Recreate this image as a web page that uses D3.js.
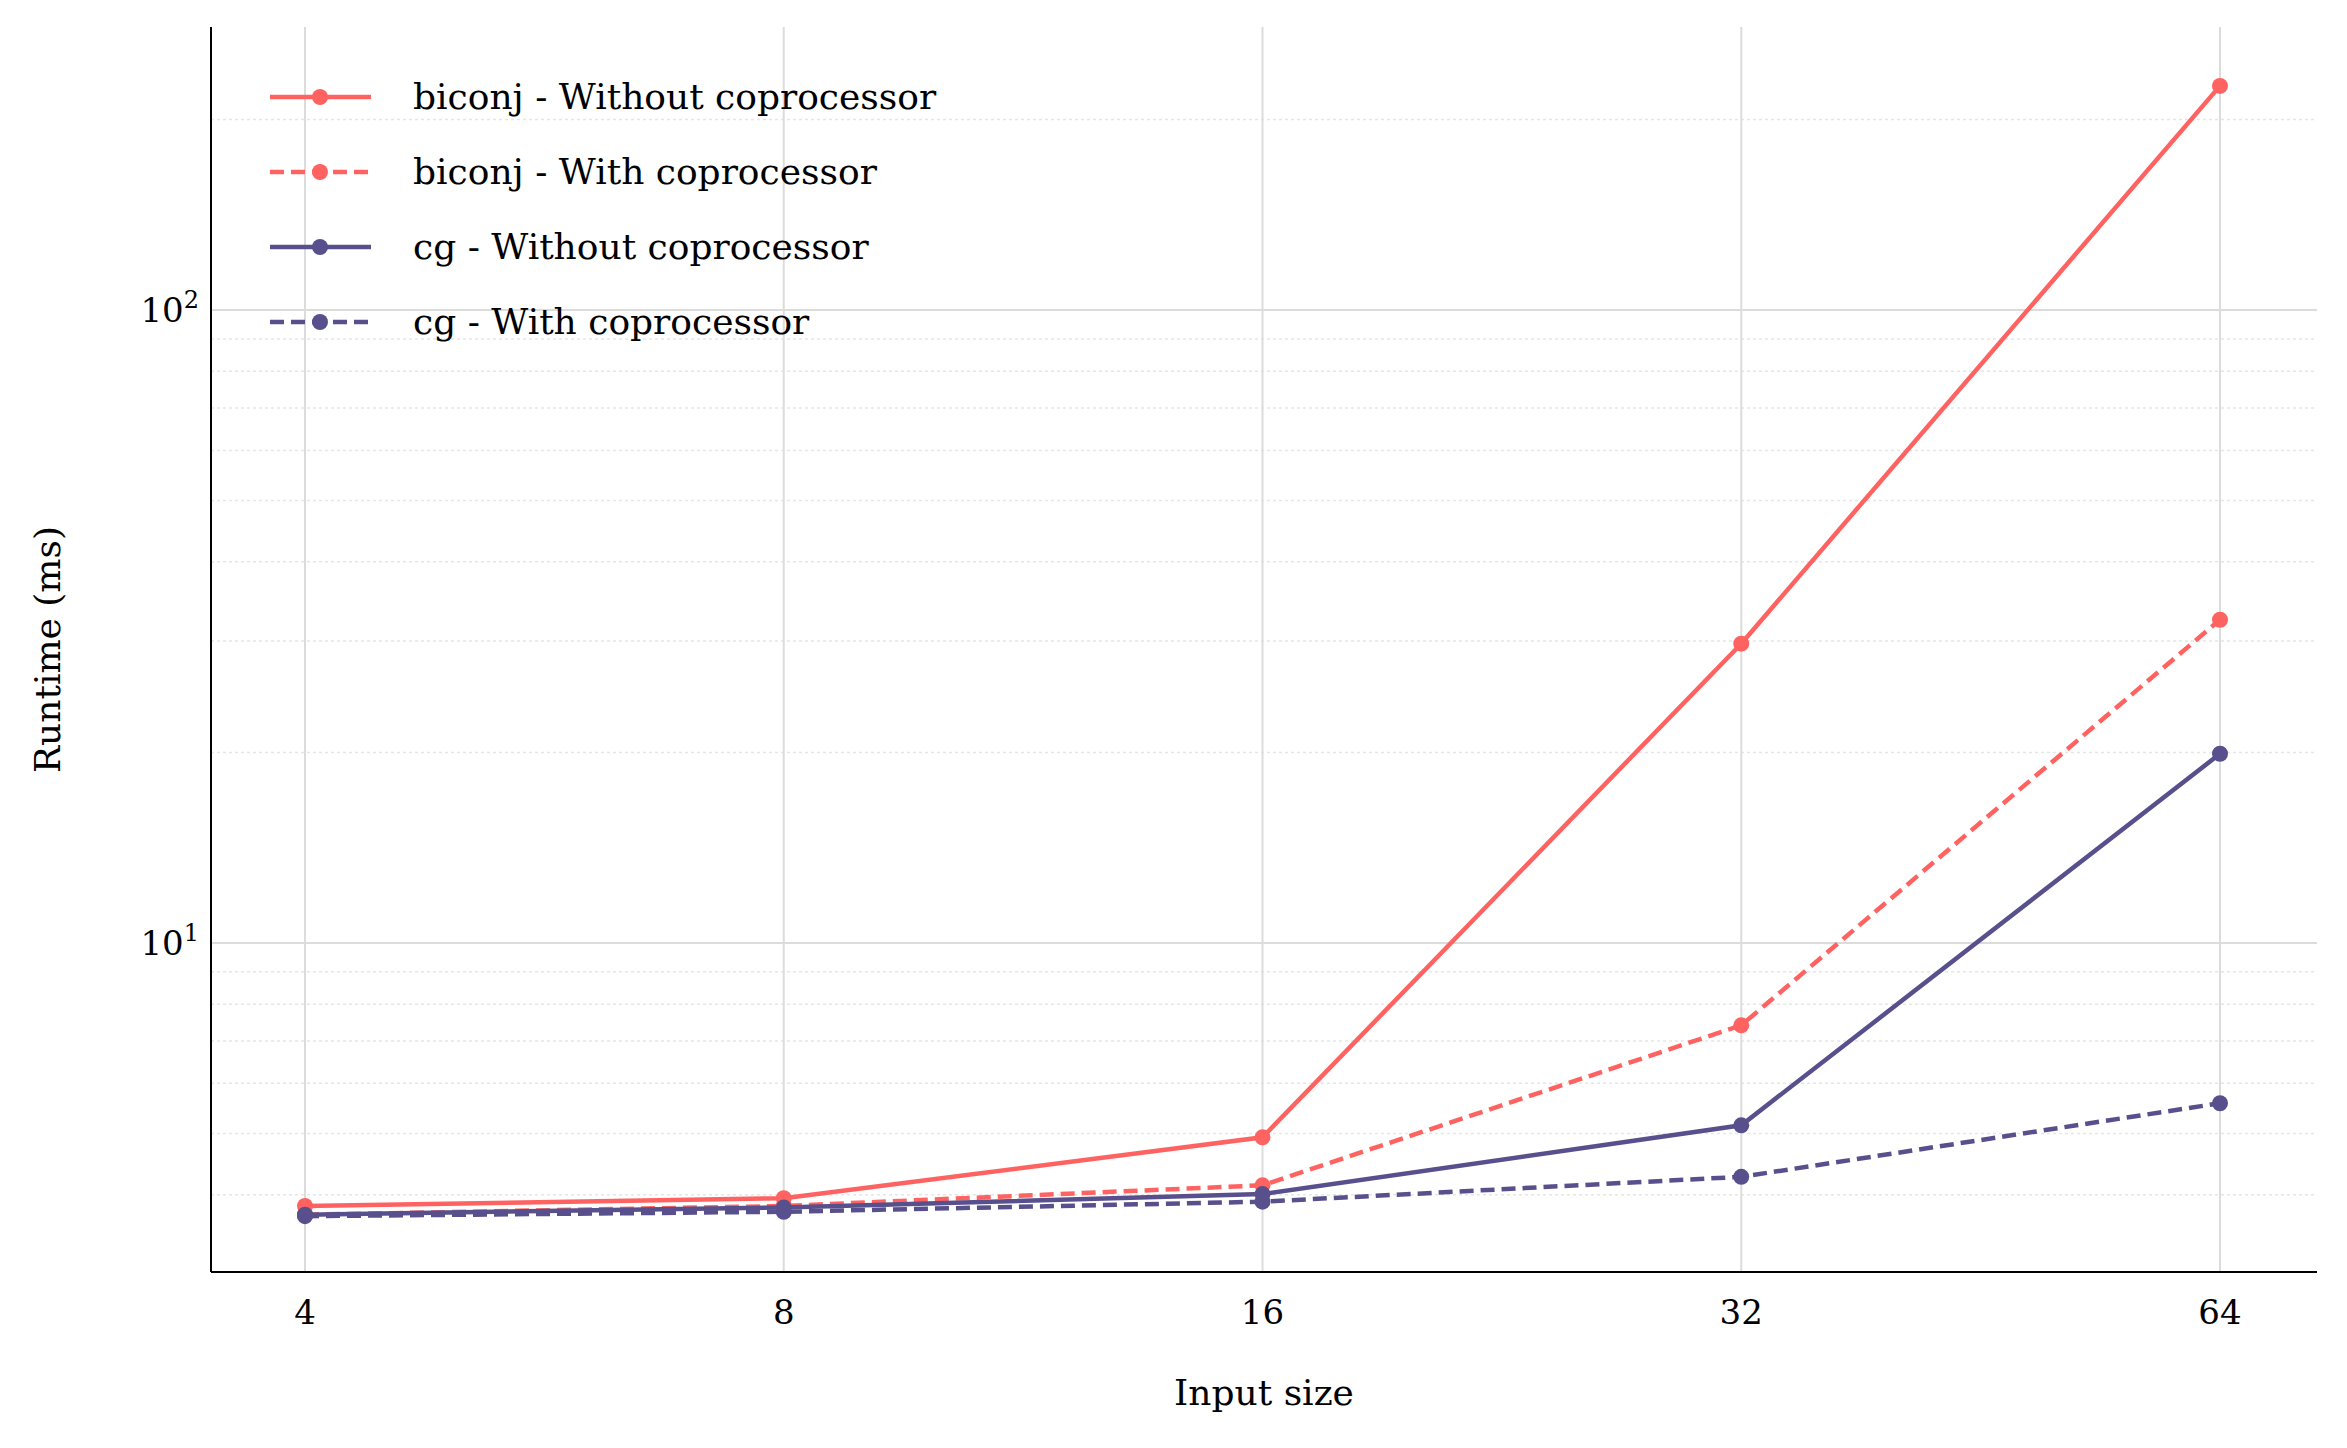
<!DOCTYPE html>
<html>
<head>
<meta charset="UTF-8">
<script src="https://d3js.org/d3.v7.min.js"></script>
<style>
  body { margin: 0; background: #fff; }
  text { font-family: "DejaVu Serif", serif; fill: #000; }
</style>
</head>
<body>
<div id="chart"></div>
<script>
const sizes = [4, 8, 16, 32, 64]
const biconjWithout = [3.84, 3.95, 4.93, 29.7, 226]
const biconjWith = [3.72, 3.84, 4.14, 7.41, 32.4]
const cgWithout = [3.72, 3.82, 4.01, 5.15, 19.9]
const cgWith = [3.70, 3.76, 3.90, 4.27, 5.58]
const seriesNames = ["biconj - Without coprocessor", "biconj - With coprocessor", "cg - Without coprocessor", "cg - With coprocessor"]

const W = 2347, H = 1448
const pLeft = 211, pRight = 2317, pTop = 27, pBottom = 1272
const red = "#ff6361", purple = "#58508d"
const series = [
  {name: seriesNames[0], vals: biconjWithout, color: red, dash: null},
  {name: seriesNames[1], vals: biconjWith, color: red, dash: "14,7"},
  {name: seriesNames[2], vals: cgWithout, color: purple, dash: null},
  {name: seriesNames[3], vals: cgWith, color: purple, dash: "14,7"}
]

const svg = d3.select("#chart").append("svg").attr("width", W).attr("height", H)
const x = d3.scaleLog().base(2).domain([4, 64]).range([305, 2220])
const y = d3.scaleLog().domain([3.02, 280]).range([pBottom, pTop])

// minor grid
const minor = []
for (const dec of [1, 10, 100]) for (let m = 2; m <= 9; m++) { const v = m * dec; if (v > 3.02 && v < 280) minor.push(v) }
svg.append("g").selectAll("line").data(minor).join("line")
  .attr("x1", pLeft).attr("x2", pRight).attr("y1", d => y(d)).attr("y2", d => y(d))
  .attr("stroke", "#e6e6e6").attr("stroke-width", 1.5).attr("stroke-dasharray", "3,3")
// major grid
svg.append("g").selectAll("line").data([10, 100]).join("line")
  .attr("x1", pLeft).attr("x2", pRight).attr("y1", d => y(d)).attr("y2", d => y(d))
  .attr("stroke", "#dcdcdc").attr("stroke-width", 2)
svg.append("g").selectAll("line").data(sizes).join("line")
  .attr("x1", d => x(d)).attr("x2", d => x(d)).attr("y1", pTop).attr("y2", pBottom)
  .attr("stroke", "#dcdcdc").attr("stroke-width", 2)

// axes
svg.append("line").attr("x1", pLeft).attr("x2", pLeft).attr("y1", pTop).attr("y2", pBottom).attr("stroke", "#000").attr("stroke-width", 2)
svg.append("line").attr("x1", pLeft).attr("x2", pRight).attr("y1", pBottom).attr("y2", pBottom).attr("stroke", "#000").attr("stroke-width", 2)
svg.append("g").selectAll("text").data(sizes).join("text")
  .attr("x", d => x(d)).attr("y", pBottom + 52).attr("text-anchor", "middle").attr("font-size", 34).text(d => d)
const yl = svg.append("g").selectAll("text").data([[10, "1"], [100, "2"]]).join("text")
  .attr("x", pLeft - 12).attr("y", d => y(d[0]) + 12).attr("text-anchor", "end").attr("font-size", 34)
yl.append("tspan").text("10")
yl.append("tspan").attr("dy", -14).attr("font-size", 24).text(d => d[1])
svg.append("text").attr("x", (pLeft + pRight) / 2).attr("y", 1405).attr("text-anchor", "middle").attr("font-size", 36).text("Input size")
svg.append("text").attr("transform", `translate(60,${(pTop + pBottom) / 2}) rotate(-90)`).attr("text-anchor", "middle").attr("font-size", 36).text("Runtime (ms)")

// series
const line = d3.line().x((d, i) => x(sizes[i])).y(d => y(d))
series.forEach(s => {
  svg.append("path").datum(s.vals).attr("d", line).attr("fill", "none")
    .attr("stroke", s.color).attr("stroke-width", 4.5).attr("stroke-dasharray", s.dash)
  svg.append("g").selectAll("circle").data(s.vals).join("circle")
    .attr("cx", (d, i) => x(sizes[i])).attr("cy", d => y(d)).attr("r", 8).attr("fill", s.color)
})

// legend
const lg = svg.append("g").selectAll("g").data(series).join("g")
  .attr("transform", (d, i) => `translate(270,${97 + i * 75})`)
lg.append("line").attr("x1", 0).attr("x2", 101).attr("stroke", d => d.color).attr("stroke-width", 4.5).attr("stroke-dasharray", d => d.dash)
lg.append("circle").attr("cx", 50).attr("r", 8).attr("fill", d => d.color)
lg.append("text").attr("x", 143).attr("y", 12).attr("font-size", 36).text(d => d.name)
</script>
</body>
</html>
